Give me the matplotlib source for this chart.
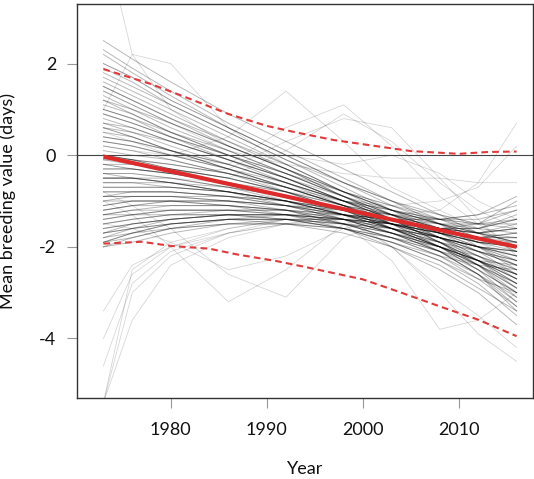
import matplotlib
matplotlib.use("Agg")
import matplotlib.pyplot as plt

plt.rcParams['font.family'] = ['Lato', 'DejaVu Sans']
plt.rcParams['axes.unicode_minus'] = False

# knot years shared by every sampled trajectory
years = [1973, 1976, 1980, 1986, 1992, 1998, 2003, 2008, 2012, 2016]

# posterior trajectories of mean breeding value (days)
samples = [
    [2.5, 2.1, 1.6, 0.9, 0.3, -0.3, -0.8, -1.3, -1.7, -2.1],
    [2.2, 1.8, 1.3, 0.6, 0.0, -0.6, -1.0, -1.4, -1.7, -1.9],
    [1.9, 1.6, 1.1, 0.5, -0.1, -0.7, -1.2, -1.7, -2.1, -2.6],
    [1.7, 1.4, 1.0, 0.4, -0.2, -0.8, -1.2, -1.5, -1.7, -1.6],
    [1.5, 1.2, 0.8, 0.3, -0.3, -0.8, -1.3, -1.8, -2.3, -2.9],
    [1.3, 1.0, 0.7, 0.2, -0.3, -0.9, -1.3, -1.6, -1.9, -2.1],
    [1.1, 0.9, 0.5, 0.1, -0.4, -0.9, -1.4, -1.9, -2.4, -3.1],
    [0.9, 0.7, 0.4, 0.0, -0.5, -1.0, -1.3, -1.6, -1.7, -1.5],
    [0.7, 0.5, 0.3, -0.1, -0.5, -1.0, -1.4, -1.8, -2.2, -2.6],
    [0.5, 0.4, 0.1, -0.2, -0.6, -1.0, -1.4, -1.7, -2.0, -2.2],
    [0.3, 0.2, 0.0, -0.3, -0.7, -1.1, -1.5, -2.0, -2.5, -3.2],
    [0.1, 0.0, -0.1, -0.4, -0.7, -1.1, -1.4, -1.6, -1.7, -1.6],
    [-0.1, -0.2, -0.3, -0.5, -0.8, -1.1, -1.5, -1.9, -2.3, -2.7],
    [-0.3, -0.3, -0.4, -0.6, -0.8, -1.2, -1.4, -1.7, -1.9, -1.9],
    [-0.5, -0.5, -0.5, -0.7, -0.9, -1.2, -1.6, -2.0, -2.5, -3.0],
    [-0.7, -0.7, -0.7, -0.8, -1.0, -1.2, -1.4, -1.6, -1.6, -1.3],
    [-0.9, -0.8, -0.8, -0.9, -1.0, -1.3, -1.6, -2.0, -2.4, -2.9],
    [-1.1, -1.0, -1.0, -1.0, -1.1, -1.3, -1.5, -1.7, -1.9, -2.0],
    [-1.3, -1.2, -1.1, -1.1, -1.2, -1.4, -1.7, -2.1, -2.6, -3.4],
    [-1.5, -1.4, -1.3, -1.2, -1.2, -1.3, -1.4, -1.5, -1.5, -1.2],
    [-1.7, -1.6, -1.4, -1.3, -1.3, -1.4, -1.7, -2.0, -2.3, -2.6],
    [-1.9, -1.7, -1.5, -1.4, -1.3, -1.4, -1.5, -1.6, -1.5, -1.0],
    [-2.0, -1.8, -1.6, -1.5, -1.5, -1.6, -1.9, -2.3, -2.8, -3.5],
    [-1.8, -1.6, -1.5, -1.4, -1.4, -1.5, -1.6, -1.8, -2.0, -2.1],
    [-1.6, -1.5, -1.4, -1.3, -1.3, -1.3, -1.4, -1.4, -1.3, -0.9],
    [-1.2, -1.1, -1.1, -1.1, -1.2, -1.4, -1.6, -1.9, -2.2, -2.5],
    [-0.8, -0.8, -0.8, -0.9, -1.0, -1.2, -1.5, -1.8, -2.1, -2.4],
    [-0.4, -0.4, -0.5, -0.7, -0.9, -1.2, -1.5, -1.8, -2.0, -2.3],
    [0.0, -0.1, -0.2, -0.4, -0.7, -1.1, -1.3, -1.5, -1.6, -1.4],
    [0.4, 0.3, 0.1, -0.2, -0.6, -1.0, -1.4, -1.9, -2.3, -2.8],
    [0.8, 0.6, 0.3, -0.1, -0.5, -0.9, -1.2, -1.5, -1.8, -2.0],
    [1.2, 1.0, 0.6, 0.1, -0.4, -0.9, -1.3, -1.8, -2.2, -2.7],
    [1.6, 1.3, 0.9, 0.3, -0.2, -0.8, -1.2, -1.6, -1.8, -1.8],
    [-1.0, -0.9, -0.9, -1.0, -1.1, -1.3, -1.5, -1.8, -2.0, -2.2],
    [-0.6, -0.6, -0.6, -0.8, -1.0, -1.3, -1.6, -1.9, -2.3, -2.8],
    [-0.2, -0.3, -0.4, -0.6, -0.9, -1.2, -1.5, -1.7, -1.9, -2.0],
    [-1.4, -1.3, -1.2, -1.2, -1.3, -1.5, -1.8, -2.2, -2.7, -3.3],
    [0.6, 0.5, 0.2, -0.2, -0.6, -1.0, -1.3, -1.6, -1.8, -1.7],
    [-1.9, -1.8, -1.6, -1.4, -1.4, -1.5, -1.7, -2.0, -2.3, -2.7],
    [1.0, 0.8, 0.5, 0.0, -0.4, -0.9, -1.3, -1.7, -2.0, -2.4],
    [2.3, 1.9, 1.4, 0.7, 0.1, -0.5, -1.0, -1.5, -2.0, -2.5],
    [2.0, 1.7, 1.2, 0.6, 0.0, -0.6, -1.1, -1.5, -1.8, -2.0],
    [1.8, 1.5, 1.1, 0.5, -0.1, -0.6, -1.0, -1.3, -1.5, -1.5],
    [1.4, 1.1, 0.7, 0.2, -0.3, -0.9, -1.4, -1.9, -2.4, -3.0],
    [1.2, 0.9, 0.5, 0.0, -0.5, -1.0, -1.4, -1.8, -2.1, -2.3],
    [0.9, 0.7, 0.4, 0.0, -0.4, -0.8, -1.1, -1.4, -1.6, -1.7],
    [0.7, 0.6, 0.3, -0.1, -0.6, -1.1, -1.6, -2.1, -2.6, -3.3],
    [0.4, 0.3, 0.1, -0.3, -0.7, -1.1, -1.4, -1.7, -1.9, -2.0],
    [0.2, 0.1, -0.1, -0.4, -0.8, -1.2, -1.6, -2.0, -2.3, -2.6],
    [-0.1, -0.1, -0.2, -0.4, -0.7, -1.0, -1.2, -1.4, -1.4, -1.2],
    [-0.3, -0.3, -0.4, -0.6, -0.9, -1.3, -1.7, -2.1, -2.6, -3.2],
    [-0.5, -0.5, -0.6, -0.7, -1.0, -1.3, -1.6, -1.8, -2.0, -2.1],
    [-0.7, -0.7, -0.7, -0.8, -1.0, -1.3, -1.6, -2.0, -2.3, -2.6],
    [-0.9, -0.9, -0.9, -0.9, -1.1, -1.3, -1.5, -1.7, -1.8, -1.7],
    [-1.1, -1.0, -1.0, -1.1, -1.2, -1.5, -1.8, -2.2, -2.6, -3.1],
    [-1.3, -1.2, -1.2, -1.2, -1.3, -1.4, -1.6, -1.8, -2.0, -2.1],
    [-1.5, -1.4, -1.3, -1.3, -1.4, -1.6, -1.9, -2.3, -2.7, -3.0],
    [-1.7, -1.5, -1.4, -1.3, -1.3, -1.4, -1.5, -1.6, -1.6, -1.4],
    [-1.9, -1.7, -1.6, -1.5, -1.5, -1.6, -1.8, -2.1, -2.4, -2.8],
    [-2.0, -1.9, -1.7, -1.5, -1.4, -1.4, -1.5, -1.7, -1.8, -1.8],
    [-1.8, -1.7, -1.5, -1.4, -1.4, -1.6, -2.0, -2.5, -3.0, -3.7],
    [-1.6, -1.5, -1.4, -1.3, -1.3, -1.5, -1.7, -1.9, -2.1, -2.3],
    [-1.2, -1.1, -1.0, -1.0, -1.1, -1.2, -1.3, -1.4, -1.3, -1.1],
    [-0.8, -0.8, -0.8, -0.9, -1.1, -1.4, -1.7, -2.1, -2.5, -3.0],
    [-0.4, -0.5, -0.6, -0.8, -1.0, -1.3, -1.5, -1.8, -2.0, -2.2],
    [0.0, -0.1, -0.3, -0.5, -0.8, -1.2, -1.6, -2.0, -2.4, -2.9],
    [0.6, 0.4, 0.1, -0.3, -0.6, -1.0, -1.2, -1.4, -1.5, -1.4],
    [1.0, 0.8, 0.4, -0.1, -0.5, -1.0, -1.5, -2.0, -2.4, -2.8],
    [1.5, 1.2, 0.8, 0.2, -0.3, -0.8, -1.2, -1.5, -1.7, -1.9],
    [-1.0, -1.0, -1.0, -1.1, -1.3, -1.6, -1.9, -2.2, -2.4, -2.5],
    [-0.6, -0.6, -0.7, -0.8, -1.0, -1.2, -1.4, -1.6, -1.7, -1.8],
    [-1.4, -1.3, -1.3, -1.3, -1.4, -1.6, -1.8, -2.0, -2.3, -2.7],
    [-0.2, -0.2, -0.3, -0.5, -0.8, -1.1, -1.3, -1.6, -1.8, -1.9],
    [0.3, 0.2, 0.0, -0.3, -0.7, -1.1, -1.5, -1.8, -2.1, -2.4],
    [-1.7, -1.6, -1.5, -1.4, -1.5, -1.7, -2.0, -2.4, -2.9, -3.4],
    [-1.3, -1.3, -1.2, -1.2, -1.2, -1.3, -1.4, -1.6, -1.7, -1.6],
    [-0.9, -0.9, -0.9, -1.0, -1.2, -1.5, -1.8, -2.1, -2.3, -2.4],
    [-0.5, -0.5, -0.6, -0.8, -1.1, -1.4, -1.7, -2.0, -2.2, -2.5],
]

# the few trajectories that wander far from the rest
strays = [
    [-5.4, -3.0, -2.2, -1.7, -1.4, -1.4, -1.5, -1.7, -1.9, -2.2],
    [-5.4, -3.6, -2.4, -1.8, -1.5, -1.4, -1.6, -1.9, -2.1, -2.4],
    [-4.6, -2.8, -2.1, -1.7, -1.5, -1.5, -1.6, -1.8, -2.0, -2.3],
    [-4.0, -2.6, -2.0, -1.6, -1.4, -1.4, -1.5, -1.7, -1.9, -2.0],
    [-3.4, -2.4, -2.0, -1.7, -1.5, -1.3, -1.4, -1.6, -1.8, -2.1],
    [-5.4, -2.5, -1.9, -1.6, -1.4, -1.5, -1.7, -2.0, -2.3, -2.6],
    [4.8, 2.2, 1.0, 0.2, -0.3, -0.8, -1.2, -1.5, -1.7, -1.9],
    [1.0, 2.2, 2.0, 0.6, -0.2, -0.8, -1.1, -1.3, -1.5, -1.6],
    [0.2, 0.1, 0.0, 0.4, 1.4, 0.3, -0.7, -1.2, -1.6, -2.0],
    [0.5, 0.3, 0.0, -0.2, 0.6, 1.1, 0.2, -0.9, -1.5, -2.0],
    [-0.2, -0.3, -0.4, -0.3, 0.3, 0.8, 0.6, -0.5, -1.4, -2.2],
    [0.0, -0.1, -0.3, -0.5, 0.1, 0.9, 0.3, -0.6, -1.2, -1.6],
    [-1.0, -1.3, -2.0, -3.2, -2.5, -1.5, -1.3, -1.5, -1.7, -1.9],
    [-0.8, -1.1, -1.6, -2.6, -3.1, -1.8, -1.4, -1.6, -1.9, -2.3],
    [-1.5, -1.6, -1.9, -2.5, -2.2, -1.6, -1.4, -1.4, -1.5, -1.6],
    [0.0, -0.1, -0.3, -0.6, -1.0, -1.5, -2.3, -3.8, -3.6, -3.0],
    [-0.5, -0.5, -0.6, -0.8, -1.0, -1.4, -2.0, -3.0, -3.9, -4.5],
    [0.6, 0.4, 0.1, -0.3, -0.8, -1.3, -2.0, -2.9, -3.5, -4.2],
    [-1.2, -1.1, -1.0, -1.0, -1.1, -1.2, -1.3, -1.2, -0.6, 0.7],
    [-0.4, -0.4, -0.5, -0.6, -0.8, -1.0, -1.1, -1.0, -0.7, 0.2],
    [1.4, 1.1, 0.7, 0.1, -0.2, -0.4, -0.5, -0.5, -0.6, -0.6],
    [2.0, 1.7, 1.2, 0.6, 0.0, -0.2, 0.0, -0.4, -1.0, -1.4],
]

# fitted trend and its 95% band
fit_years = [1973, 2016]
fit_vals = [-0.03, -2.0]
upper_years = [1973, 1978, 1982, 1986, 1990, 1993, 1997, 2000, 2005, 2010, 2013, 2016]
upper_vals = [1.88, 1.55, 1.23, 0.90, 0.64, 0.50, 0.33, 0.24, 0.09, 0.03, 0.07, 0.08]
lower_years = [1973, 1977, 1980, 1984, 1987, 1991, 1994, 2000, 2004, 2008, 2012, 2016]
lower_vals = [-1.93, -1.89, -1.98, -2.04, -2.17, -2.31, -2.44, -2.71, -3.0, -3.3, -3.59, -3.95]

fig = plt.figure(figsize=(5.34, 4.79), dpi=100)
ax = fig.add_axes([0.1442, 0.1691, 0.8538, 0.8225])

for s in samples:
    ax.plot(years, s, color='black', alpha=0.28, lw=0.7, zorder=1)
for s in strays:
    ax.plot(years, s, color='black', alpha=0.16, lw=0.6, zorder=1)

ax.axhline(0, color='#444444', lw=0.8, zorder=2)
ax.plot(fit_years, fit_vals, color='#dd2a2a', lw=3.0, solid_capstyle='butt', zorder=3)
ax.plot(upper_years, upper_vals, color='#e03a3a', lw=1.5, dashes=(3.2, 2), zorder=3)
ax.plot(lower_years, lower_vals, color='#e03a3a', lw=1.5, dashes=(3.2, 2), zorder=3)

ax.set_xlim(1970.25, 2017.7)
ax.set_ylim(-5.3, 3.3)
ax.set_xticks([1980, 1990, 2000, 2010])
ax.set_yticks([-4, -2, 0, 2])
ax.tick_params(axis='both', direction='out', length=7, width=0.8, color='#999999',
               labelsize=13, labelcolor='#111111')
ax.tick_params(axis='x', pad=10)
ax.tick_params(axis='y', pad=8)
for sp in ax.spines.values():
    sp.set_color('#333333')
    sp.set_linewidth(1.0)

ax.set_xlabel('Year', fontsize=13, labelpad=17, color='#111111')
ax.set_ylabel('Mean breeding value (days)', fontsize=13, color='#111111')
ax.yaxis.set_label_coords(-0.134, 0.5)

fig.savefig('out.png', dpi=100)
